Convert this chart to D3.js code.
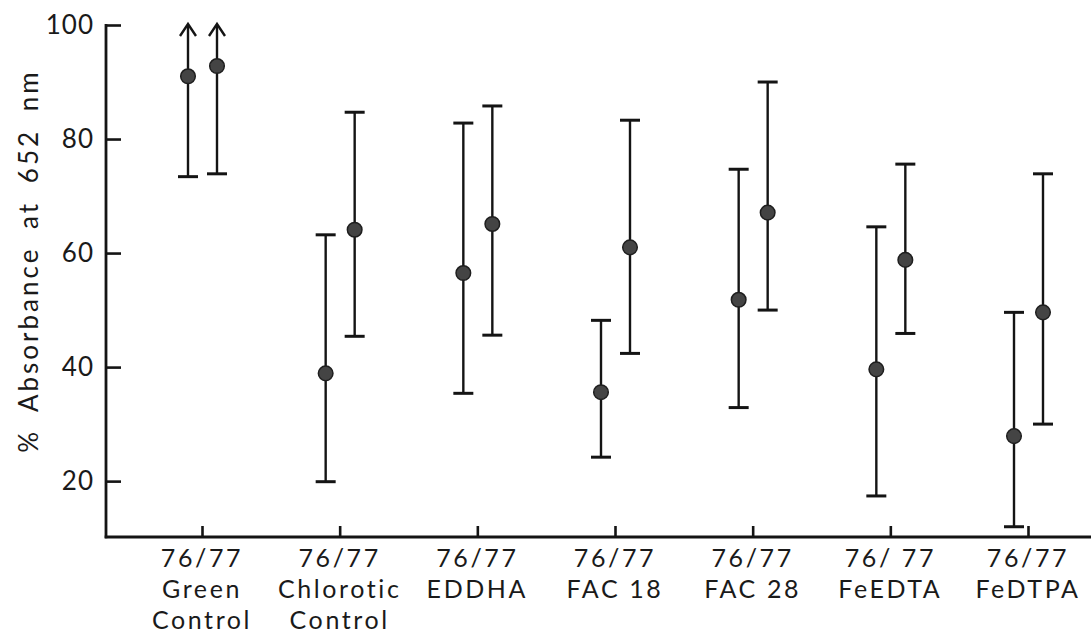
<!DOCTYPE html>
<html>
<head>
<meta charset="utf-8">
<script src="https://cdn.jsdelivr.net/npm/d3@7"></script>
<style>
  body { margin: 0; background: #fff; }
  svg text { font-family: Lato, "Open Sans", sans-serif; fill: #1a1a1a; }
</style>
</head>
<body>
<div id="chart"></div>
<script>
// treatments (x categories)
var categories = ["Green Control", "Chlorotic Control", "EDDHA", "FAC 18", "FAC 28", "FeEDTA", "FeDTPA"];
var labelLines = [
  ["76/77", "Green", "Control"],
  ["76/77", "Chlorotic", "Control"],
  ["76/77", "EDDHA"],
  ["76/77", "FAC 18"],
  ["76/77", "FAC 28"],
  ["76/ 77", "FeEDTA"],
  ["76/77", "FeDTPA"]
];

// two series per treatment (left = 76, right = 77)
var seriesA = [91.0, 38.9, 56.5, 35.6, 51.8, 39.6, 27.9];
var seriesALow = [73.4, 19.9, 35.4, 24.2, 32.9, 17.4, 12.0];
var seriesAHigh = [100, 63.2, 82.8, 48.2, 74.7, 64.6, 49.6];

var seriesB = [92.8, 64.1, 65.1, 61.0, 67.1, 58.8, 49.6];
var seriesBLow = [73.9, 45.4, 45.6, 42.4, 50.0, 45.9, 30.0];
var seriesBHigh = [100, 84.7, 85.8, 83.3, 90.0, 75.6, 73.9];

// values that run off the top of the scale (drawn with an arrow)
var offScale = ["Green Control"];

var yTicks = [20, 40, 60, 80, 100];

var svgWidth = 1091;
var svgHeight = 636;

var margin = {top: 25, right: 0, bottom: 99, left: 106};
var width = svgWidth - margin.left - margin.right;
var height = svgHeight - margin.top - margin.bottom;

var svg = d3.select("#chart").append("svg")
    .attr("width", svgWidth)
    .attr("height", svgHeight);

var chartGroup = svg.append("g")
    .attr("transform", `translate(${margin.left}, ${margin.top})`);

var yScale = d3.scaleLinear()
    .domain([10.2, 100])
    .range([height, 0]);

var xScale = d3.scalePoint()
    .domain(categories)
    .range([96, 922]);

var offset = {a: -14, b: 15};

var ink = "#141414";

// axes
var leftAxis = d3.axisLeft(yScale)
    .tickValues(yTicks)
    .tickSize(-15)
    .tickPadding(12);
var bottomAxis = d3.axisBottom(xScale)
    .tickSize(-11)
    .tickFormat("");

var yAxisG = chartGroup.append("g").call(leftAxis);
var xAxisG = chartGroup.append("g")
    .attr("transform", `translate(0, ${height})`)
    .call(bottomAxis);

[yAxisG, xAxisG].forEach(function(g) {
  g.select(".domain").remove();
  g.selectAll("line").attr("stroke", ink).attr("stroke-width", 2.6);
});
yAxisG.selectAll("text")
    .style("font-size", "26px")
    .style("letter-spacing", "1px")
    .attr("fill", ink);

// axis lines
chartGroup.append("line")
    .attr("x1", 0).attr("x2", 0)
    .attr("y1", yScale(100) - 1).attr("y2", height + 1.3)
    .attr("stroke", ink).attr("stroke-width", 2.8);
chartGroup.append("line")
    .attr("x1", -1.3).attr("x2", width)
    .attr("y1", height).attr("y2", height)
    .attr("stroke", ink).attr("stroke-width", 2.8);

// x labels
categories.forEach(function(c, i) {
  var t = chartGroup.append("text")
      .attr("text-anchor", "middle")
      .attr("transform", `translate(${xScale(c)}, ${height + 30})`)
      .style("font-size", "25px")
      .style("letter-spacing", "2.6px");
  labelLines[i].forEach(function(line, j) {
    t.append("tspan")
        .attr("x", 0)
        .attr("y", j * 31)
        .text(line);
  });
});

// y title
svg.append("text")
    .attr("transform", `translate(38, 261) rotate(-90)`)
    .attr("text-anchor", "middle")
    .style("font-size", "26px")
    .style("letter-spacing", "3px")
    .style("word-spacing", "8px")
    .text("% Absorbance at 652 nm");

// build series rows
function rows(mean, low, high, key) {
  return categories.map(function(c, i) {
    return {cat: c, mean: mean[i], low: low[i], high: high[i], key: key};
  });
}
var allRows = rows(seriesA, seriesALow, seriesAHigh, "a")
    .concat(rows(seriesB, seriesBLow, seriesBHigh, "b"));

function xPos(d) { return xScale(d.cat) + offset[d.key]; }

var bars = chartGroup.selectAll(".bar")
    .data(allRows)
    .enter()
    .append("g")
    .attr("class", "bar");

bars.append("line")
    .attr("x1", xPos).attr("x2", xPos)
    .attr("y1", d => yScale(d.low))
    .attr("y2", d => yScale(d.high))
    .attr("stroke", ink)
    .attr("stroke-width", 2.4);

// lower caps
bars.append("line")
    .attr("x1", d => xPos(d) - 10).attr("x2", d => xPos(d) + 10)
    .attr("y1", d => yScale(d.low)).attr("y2", d => yScale(d.low))
    .attr("stroke", ink)
    .attr("stroke-width", 3);

// upper caps or arrows
bars.filter(d => offScale.indexOf(d.cat) < 0)
    .append("line")
    .attr("x1", d => xPos(d) - 10).attr("x2", d => xPos(d) + 10)
    .attr("y1", d => yScale(d.high)).attr("y2", d => yScale(d.high))
    .attr("stroke", ink)
    .attr("stroke-width", 3);

bars.filter(d => offScale.indexOf(d.cat) >= 0)
    .append("path")
    .attr("d", function(d) {
      var x = xPos(d), y = yScale(d.high) - 1;
      return `M${x - 8},${y + 12} L${x},${y} L${x + 8},${y + 12}`;
    })
    .attr("fill", "none")
    .attr("stroke", ink)
    .attr("stroke-width", 2.4);

// means
bars.append("circle")
    .attr("cx", xPos)
    .attr("cy", d => yScale(d.mean))
    .attr("r", 7.3)
    .attr("fill", "#444")
    .attr("stroke", "#1e1e1e")
    .attr("stroke-width", 1.5);
</script>
</body>
</html>
